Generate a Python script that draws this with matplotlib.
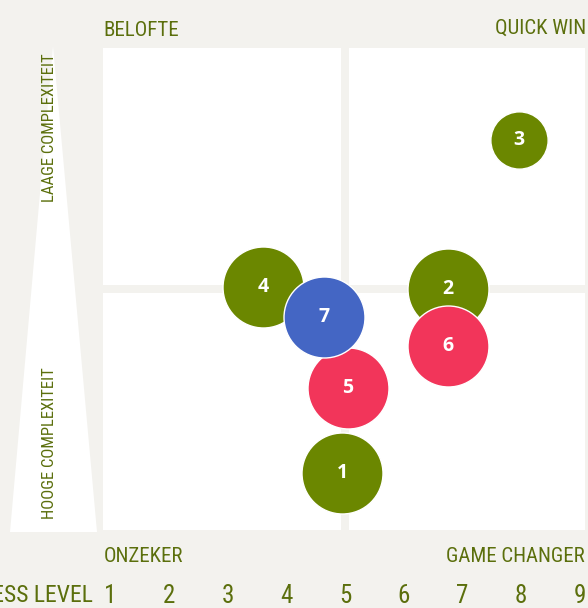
import matplotlib
matplotlib.use("Agg")
import matplotlib.pyplot as plt
from matplotlib import font_manager
from matplotlib.patches import Rectangle, Polygon

# =========================
# Data
# =========================
ids = ["1", "2", "3", "4", "5", "6", "7"]
readiness = [4.95, 6.75, 7.96, 3.60, 5.05, 6.75, 4.64]
complexity = [1.18, 5.00, 8.09, 5.04, 2.95, 3.82, 4.42]
weight = [2, 2, 1, 2, 2, 2, 2]
group = ["g", "g", "g", "g", "r", "r", "b"]

tick_values = [1, 2, 3, 4, 5, 6, 7, 8, 9]
axis_title = "READYNESS LEVEL"
corner_labels = ["BELOFTE", "QUICK WIN", "ONZEKER", "GAME CHANGER"]
side_labels = ["LAAGE COMPLEXITEIT", "HOOGE COMPLEXITEIT"]

# =========================
# Style
# =========================
BG = "#f3f2ee"
TXT = "#5b6f0c"
colors = {"g": "#6b8700", "r": "#f2355a", "b": "#4466c4"}

names = {f.name for f in font_manager.fontManager.ttflist}
narrow = "DejaVu Sans"
for cand in ["Roboto Condensed", "Open Sans Condensed", "Liberation Sans Narrow"]:
    if cand in names:
        narrow = cand
        break

W, H = 588, 608
fig = plt.figure(figsize=(W / 100, H / 100), dpi=100, facecolor=BG)

# panel area in pixels
left, right, top, bottom = 103, 585, 48, 530
ax = fig.add_axes([left / W, 1 - bottom / H, (right - left) / W, (bottom - top) / H])
ax.set_facecolor(BG)
for s in ax.spines.values():
    s.set_visible(False)

x0 = 1 + (left - 110) / 58.75
x1 = 1 + (right - 110) / 58.75
ax.set_xlim(x0, x1)
ax.set_ylim(0, 10)

# white quadrants with a gap in the middle
gx, gy = 0.06, 0.075
for (a, b) in [(x0, 5 - gx), (5 + gx, x1)]:
    for (c, d) in [(0, 5 - gy), (5 + gy, 10)]:
        ax.add_patch(Rectangle((a, c), b - a, d - c, facecolor="white", edgecolor="none", zorder=0))

# complexity wedge on the left
tri = Polygon([(53 / W, 1 - 46 / H), (10 / W, 1 - 532 / H), (97 / W, 1 - 532 / H)],
              closed=True, transform=fig.transFigure, facecolor="white", edgecolor="none", zorder=0)
fig.patches.append(tri)

# bubbles
for i in range(len(ids)):
    ax.scatter(readiness[i], complexity[i], s=weight[i] * 1700, color=colors[group[i]],
               edgecolor="white", linewidth=1, zorder=2 + i)
    ax.text(readiness[i], complexity[i], ids[i], color="white", fontsize=14, fontweight="bold",
            family=["Open Sans", "DejaVu Sans"], ha="center", va="center", zorder=2 + i)

# x ticks
ax.set_xticks(tick_values)
ax.set_xticklabels([str(v) for v in tick_values], fontsize=18, color=TXT, family=narrow)
ax.tick_params(axis="x", length=0, pad=39)
ax.set_yticks([])

# labels
fig.text(93 / W, 1 - 596 / H, axis_title, ha="right", va="center", fontsize=17, color=TXT, family=narrow)
fig.text(103 / W, 1 - 30 / H, corner_labels[0], ha="left", va="center", fontsize=15, color=TXT, family=narrow)
fig.text(586 / W, 1 - 28 / H, corner_labels[1], ha="right", va="center", fontsize=15, color=TXT, family=narrow)
fig.text(104 / W, 1 - 556 / H, corner_labels[2], ha="left", va="center", fontsize=15, color=TXT, family=narrow)
fig.text(585 / W, 1 - 556 / H, corner_labels[3], ha="right", va="center", fontsize=15, color=TXT, family=narrow)

fig.text(50 / W, 1 - 128 / H, side_labels[0], rotation=90, ha="center", va="center", fontsize=12, color=TXT, family=narrow)
fig.text(50 / W, 1 - 443 / H, side_labels[1], rotation=90, ha="center", va="center", fontsize=12, color=TXT, family=narrow)

fig.savefig("out.png", dpi=100, facecolor=BG)
